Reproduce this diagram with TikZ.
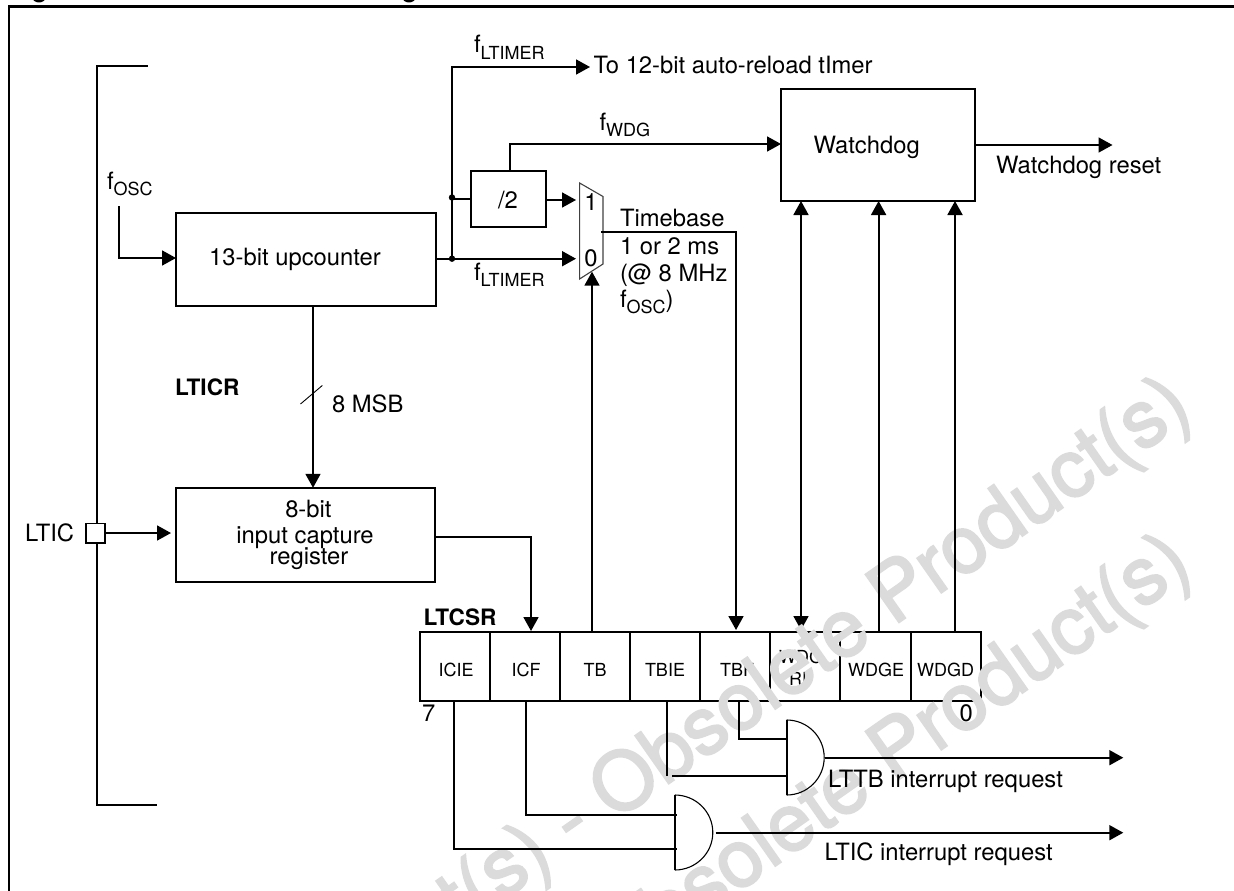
\documentclass[tikz,border=0pt]{standalone}
\usepackage{fontspec}
\setmainfont{TeX Gyre Heros}
\newfontfamily\wmfont[FakeBold=2.5]{TeX Gyre Heros}
\usetikzlibrary{arrows.meta,calc}
\newcommand{\fsub}[1]{f\raisebox{-6pt}{\fontsize{18}{18}\selectfont #1}}
\colorlet{wmgray}{black!14}
\tikzset{
  wire/.style={draw=black,line width=1.8pt},
  thinwire/.style={draw=black,line width=1.2pt},
  arr/.style={wire,-{Triangle[length=14pt,width=15pt]}},
  dblarr/.style={wire,{Triangle[length=14pt,width=15pt]}-{Triangle[length=14pt,width=15pt]}},
  blockbox/.style={draw=black,line width=2pt,inner sep=0pt,outer sep=0pt},
  cell/.style={blockbox},
  txt/.style={inner sep=0pt,outer sep=0pt,anchor=base west,font=\fontsize{23.8}{27}\selectfont},
  ctxt/.style={txt,anchor=base},
  boldtxt/.style={txt,font=\fontsize{22.6}{27}\selectfont\bfseries},
  regtxt/.style={inner sep=0pt,outer sep=0pt,anchor=base,font=\fontsize{18}{20}\selectfont},
  wmark/.style={inner sep=0pt,outer sep=0pt,anchor=base east,rotate=35,text=wmgray,font=\fontsize{80}{84}\selectfont\wmfont},
}
\begin{document}
\begin{tikzpicture}[x=1pt,y=-1pt]
\useasboundingbox (0,0) rectangle (1234,891);
\begin{scope}
\clip (0,0) rectangle (1234,891);
% clipped title descenders
\fill (39,-2.5) ellipse [x radius=6.5pt,y radius=5pt];
\fill (409,-2.5) ellipse [x radius=6.5pt,y radius=5pt];
% frame
\coordinate (frBL) at (9,891);
\coordinate (frTL) at (9,6.5);
\coordinate (frTR) at (1234,6.5);
\draw[line width=2.4pt] (frBL) -- (frTL) -- (frTR);

% register (below the watermark)
\node[cell,minimum width=70.2pt,minimum height=69pt] (c1) at (454.9,666.5) {};
\node[cell,minimum width=70pt,minimum height=69pt] (c2) at (525,666.5) {};
\node[cell,minimum width=69.7pt,minimum height=69pt] (c3) at (594.85,666.5) {};
\node[cell,minimum width=70.3pt,minimum height=69pt] (c4) at (664.85,666.5) {};
\node[cell,minimum width=70pt,minimum height=69pt] (c5) at (735,666.5) {};
\node[cell,minimum width=69.7pt,minimum height=69pt] (c6) at (804.85,666.5) {};
\node[cell,minimum width=71.3pt,minimum height=69pt] (c7) at (875.35,666.5) {};
\node[cell,minimum width=70pt,minimum height=69pt] (c8) at (946,666.5) {};
\node[regtxt] (l1) at (456,676) {ICIE};
\node[regtxt] (l2) at (526,676) {ICF};
\node[regtxt] (l3) at (595,676) {TB};
\node[regtxt] (l4) at (665,676) {TBIE};
\node[regtxt] (l5) at (737,676) {TBF};
\node[regtxt] (l6a) at (801,663) {WDG};
\node[regtxt] (l6b) at (801,685) {RF};
\node[regtxt] (l7) at (876,676) {WDGE};
\node[regtxt] (l8) at (945.7,676) {WDGD};

% blocks used by connectors
\node[blockbox,minimum width=194pt,minimum height=112pt] (wdog) at (878,145) {};
% double arrow WDG RF / watchdog
\coordinate (wrfTip) at (801,630);
\draw[dblarr] (wrfTip) -- (wrfTip |- wdog.south);

% watermark
\node[wmark] (wm1) at (1195,415) {t(s) - Obsolete Product(s)};
\node[wmark] (wm2) at (1195,572) {bsolete Product(s)};

% blocks
\node[blockbox,minimum width=260pt,minimum height=93pt] (upc) at (306,259.2) {};
\node[blockbox,minimum width=259pt,minimum height=94.2pt] (icr) at (305.5,534.9) {};
\node[blockbox,minimum width=75pt,minimum height=56.3pt] (div) at (508.5,198.9) {};
\node[blockbox,line width=1.6pt,minimum width=19pt,minimum height=19.5pt,fill=white] (pad) at (95.4,533.2) {};

% LTIC bracket
\coordinate (brT) at (147.5,66);
\coordinate (brTL) at (97,66);
\coordinate (brBL) at (97,805);
\coordinate (brB) at (157,805);
\draw[wire] (brT) -- (brTL) -- (pad.north -| brTL);
\draw[wire] (pad.south -| brTL) -- (brBL) -- (brB);

% multiplexer
\coordinate (mA) at (579.6,183);
\coordinate (mB) at (603,196.5);
\coordinate (mC) at (603,264);
\coordinate (mD) at (579.6,279);
\draw[line width=1.1pt,draw=black!75] (mA) -- (mB) -- (mC) -- (mD) -- cycle;
\node[ctxt] (m1) at (591,210) {1};
\node[ctxt] (m0) at (591,266.7) {0};

% clock wires
\coordinate (oscS) at (118.6,206);
\coordinate (oscE) at (118.6,258);
\draw[arr] (oscS) -- (oscE) -- (oscE -| upc.west);
\coordinate (j1) at (452,258.7);
\coordinate (j2) at (452,197.5);
\coordinate (ltT) at (452,67);
\coordinate (ltE) at (590,67);
\coordinate (m0in) at (576,258.7);
\coordinate (m1in) at (576,200);
\draw[arr] (j1 -| upc.east) -- (m0in);
\draw[arr] (j1) -- (ltT) -- (ltE);
\draw[wire] (452,199) -- (452,199 -| div.west);
\draw[arr] (m1in -| div.east) -- (m1in);
\fill (j1) circle (3.2pt);
\fill (j2) circle (3.2pt);
% fWDG
\coordinate (wA) at (509.6,144);
\draw[arr] (wA |- div.north) -- (wA) -- (wA -| wdog.west);
% watchdog reset
\coordinate (wrE) at (1112.5,145);
\draw[arr] (wrE -| wdog.east) -- (wrE);
% inputs to watchdog
\coordinate (wgeX) at (878.6,201);
\coordinate (wgdX) at (955,201);
\draw[arr] (wgeX |- c7.north) -- (wgeX |- wdog.south);
\draw[arr] (wgdX |- c8.north) -- (wgdX |- wdog.south);
% TB select
\coordinate (tbTip) at (592,271.7);
\draw[arr] (tbTip |- c3.north) -- (tbTip);
% timebase
\coordinate (tbS) at (601,231.7);
\coordinate (tbC) at (736,231.7);
\coordinate (tbTipF) at (736,630);
\draw[arr] (tbS) -- (tbC) -- (tbTipF);
% counter to capture
\coordinate (cntX) at (313,300);
\draw[arr] (cntX |- upc.south) -- (cntX |- icr.north);
\coordinate (slA) at (300.5,404);
\coordinate (slB) at (322.3,385.5);
\draw[line width=0.9pt] (slA) -- (slB);
% LTIC input
\coordinate (ltIn) at (171,533);
\draw[arr] (ltIn -| pad.east) -- (ltIn);
% capture to ICF
\coordinate (icfA) at (531,536.7);
\coordinate (icfTip) at (531,631);
\draw[arr] (icfA -| icr.east) -- (icfA) -- (icfTip);

% AND gates
\coordinate (g1T) at (786.7,720);
\coordinate (g1B) at (786.7,795);
\coordinate (g2T) at (674.8,795);
\coordinate (g2B) at (674.8,870);
\draw[line width=1.6pt] (g1B) -- (g1T);
\draw[line width=1.1pt] (g1T) arc [start angle=90,end angle=-90,x radius=37.5pt,y radius=37.5pt];
\draw[line width=1.6pt] (g2B) -- (g2T);
\draw[line width=1.1pt] (g2T) arc [start angle=90,end angle=-90,x radius=38pt,y radius=37.5pt];
% gate inputs
\coordinate (tbfB) at (738.9,739);
\coordinate (tbieB) at (667,775.7);
\coordinate (tbieH) at (672,775.7);
\coordinate (icfB) at (526,815);
\coordinate (icieB) at (453.8,848.7);
\draw[thinwire] (tbfB |- c5.south) -- (tbfB) -- (tbfB -| g1T);
\draw[wire] (tbieB |- c4.south) -- (tbieB);
\draw[wire] (tbieH) -- (tbieH -| g1T);
\draw[wire] (icfB |- c2.south) -- (icfB) -- (676.8,815);
\draw[wire] (icieB |- c1.south) -- (icieB) -- (676.8,848.7);
% gate outputs
\coordinate (o1) at (824.5,757.7);
\coordinate (o1E) at (1123.3,757.7);
\coordinate (o2) at (715.5,832.7);
\coordinate (o2E) at (1123.3,832.7);
\draw[arr] (o1) -- (o1E);
\draw[arr] (o2) -- (o2E);

% texts
\node[txt] (tFl1) at (474,53) {\fsub{LTIMER}};
\node[txt] (tFl2) at (474,280.5) {\fsub{LTIMER}};
\node[txt] (tFosc) at (107,189) {\fsub{OSC}};
\node[txt] (tFwdg) at (599.5,130) {\fsub{WDG}};
\node[txt] (tTo) at (593.5,74) {To 12-bit auto-reload tImer};
\node[txt] (tWd) at (813.6,153.5) {Watchdog};
\node[txt] (tWr) at (996,173) {Watchdog reset};
\node[ctxt] (tDiv) at (508,208) {/2};
\node[ctxt] (tUp) at (295,265.5) {13-bit upcounter};
\node[txt] (tB1) at (620,226.7) {Timebase};
\node[txt] (tB2) at (620,254) {1 or 2 ms};
\node[txt] (tB3) at (620,281) {(@ 8 MHz};
\node[txt] (tB4) at (620,307) {\fsub{OSC})};
\node[boldtxt] (tLticr) at (175,395) {LTICR};
\node[txt] (tMsb) at (332,412.5) {8 MSB};
\node[ctxt] (tI1) at (308.4,517.6) {8-bit};
\node[ctxt] (tI2) at (305,543.8) {input capture};
\node[ctxt] (tI3) at (309,564.5) {register};
\node[txt] (tLtic) at (25,541) {LTIC};
\node[boldtxt] (tLtcsr) at (423.7,625.7) {LTCSR};
\node[txt] (t7) at (422,721.7) {7};
\node[txt] (t0) at (959.5,721.7) {0};
\node[txt] (tIrq1) at (828,787.3) {LTTB interrupt request};
\node[txt] (tIrq2) at (824.5,860) {LTIC interrupt request};
\end{scope}
\end{tikzpicture}
\end{document}
